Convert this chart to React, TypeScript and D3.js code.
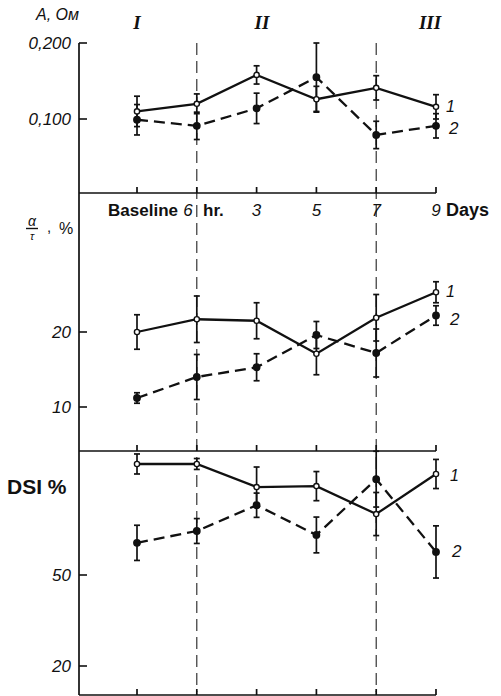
import React from "react";
import * as d3 from "d3";

// time points (the last day label is 9; the scan prints it poorly)
const timePoints = ["Baseline", "6 hr.", "3", "5", "7", "9"];
const romanLabels = ["I", "II", "III"];

// panel A: amplitude, Ohm
const ampTicks = [0.1, 0.2];
const ampS1 = [0.11, 0.12, 0.158, 0.126, 0.141, 0.116];
const ampS1Err = [0.02, 0.013, 0.012, 0.017, 0.016, 0.016];
const ampS2 = [0.099, 0.091, 0.114, 0.155, 0.079, 0.091];
const ampS2Err = [0.02, 0.018, 0.02, 0.045, 0.018, 0.016];

// panel alpha/tau, %
const ratioTicks = [10, 20];
const ratioS1 = [20.0, 21.7, 21.5, 17.1, 21.9, 25.3];
const ratioS1Err = [2.3, 3.1, 2.4, 2.8, 3.1, 1.4];
const ratioS2 = [11.2, 14.0, 15.3, 19.6, 17.2, 22.2];
const ratioS2Err = [0.7, 3.0, 1.8, 1.8, 3.2, 1.3];

// panel DSI %
const dsiTicks = [20, 50];
const dsiS1 = [86.6, 86.6, 79.0, 79.3, 70.1, 83.3];
const dsiS1Err = [3.3, 1.8, 6.6, 4.8, 7.1, 4.8];
const dsiS2 = [60.6, 64.5, 73.0, 63.2, 81.6, 57.6];
const dsiS2Err = [5.8, 4.1, 4.0, 5.9, 9.2, 8.6];

const W = 501;
const H = 696;
const AXIS_X = 79;
const sans = "'Liberation Sans', Arial, sans-serif";

const x = d3.scalePoint<string>().domain(timePoints).range([137, 436]);

interface PanelProps {
  y: d3.ScaleLinear<number, number>;
  s1: number[];
  e1: number[];
  s2: number[];
  e2: number[];
  ticks: number[];
  fmt: (v: number) => string;
  lab1: [number, number];
  lab2: [number, number];
}

function Series({ y, vals, errs, dashed }: { y: d3.ScaleLinear<number, number>; vals: number[]; errs: number[]; dashed: boolean }) {
  const line = d3
    .line<number>()
    .x((_, i) => x(timePoints[i]) as number)
    .y((d) => y(d));
  return (
    <g>
      <path
        d={line(vals) || ""}
        fill="none"
        stroke="#111"
        strokeWidth={2.3}
        strokeDasharray={dashed ? "11,6" : undefined}
      />
      {vals.map((v, i) => {
        const cx = x(timePoints[i]) as number;
        const top = y(v + errs[i]);
        const bot = y(v - errs[i]);
        return (
          <g key={i} stroke="#111" strokeWidth={1.7}>
            <line x1={cx} x2={cx} y1={top} y2={bot} />
            <line x1={cx - 3} x2={cx + 3} y1={top} y2={top} />
            <line x1={cx - 3} x2={cx + 3} y1={bot} y2={bot} />
          </g>
        );
      })}
      {vals.map((v, i) => (
        <circle
          key={"m" + i}
          cx={x(timePoints[i]) as number}
          cy={y(v)}
          r={dashed ? 3.2 : 2.6}
          fill={dashed ? "#111" : "#fff"}
          stroke="#111"
          strokeWidth={1.4}
        />
      ))}
    </g>
  );
}

function Panel({ y, s1, e1, s2, e2, ticks, fmt, lab1, lab2 }: PanelProps) {
  return (
    <g>
      {ticks.map((t) => (
        <g key={t}>
          <line x1={AXIS_X} x2={AXIS_X + 8} y1={y(t)} y2={y(t)} stroke="#111" strokeWidth={1.6} />
          <text
            x={AXIS_X - 8}
            y={y(t) + 6}
            textAnchor="end"
            fontFamily={sans}
            fontStyle="italic"
            fontSize={17}
            fill="#111"
          >
            {fmt(t)}
          </text>
        </g>
      ))}
      <Series y={y} vals={s2} errs={e2} dashed={true} />
      <Series y={y} vals={s1} errs={e1} dashed={false} />
      <text x={lab1[0]} y={lab1[1]} fontFamily={sans} fontStyle="italic" fontSize={16} fill="#111">1</text>
      <text x={lab2[0]} y={lab2[1]} fontFamily={sans} fontStyle="italic" fontSize={17} fill="#111">2</text>
    </g>
  );
}

function HAxis({ yPos }: { yPos: number }) {
  return (
    <g stroke="#111" strokeWidth={1.7}>
      <line x1={AXIS_X} x2={436} y1={yPos} y2={yPos} />
      {timePoints.map((t) => (
        <line key={t} x1={x(t) as number} x2={x(t) as number} y1={yPos} y2={yPos - 6} />
      ))}
    </g>
  );
}

export default function App() {
  const yAmp = d3.scaleLinear().domain([0.1, 0.2]).range([119, 43]);
  const yRatio = d3.scaleLinear().domain([10, 20]).range([407, 332]);
  const yDsi = d3.scaleLinear().domain([20, 50]).range([666, 575]);
  const comma = (v: number) => d3.format(".3f")(v).replace(".", ",");
  const romanX = [137, 262, 430];

  return (
    <svg
      width={W}
      height={H}
      style={{ position: "absolute", left: 0, top: 0, background: "#fff" }}
    >
      <rect width={W} height={H} fill="#fff" />
      {/* vertical dashed reference lines at 6 hr and day 7 */}
      {["6 hr.", "7"].map((t) => (
        <line
          key={t}
          x1={x(t) as number}
          x2={x(t) as number}
          y1={43}
          y2={692}
          stroke="#222"
          strokeWidth={1.1}
          strokeDasharray="12,6"
        />
      ))}
      {/* left axis */}
      <line x1={AXIS_X} x2={AXIS_X} y1={43} y2={695} stroke="#111" strokeWidth={1.7} />
      <HAxis yPos={193} />
      <HAxis yPos={451} />
      <HAxis yPos={695} />

      {romanLabels.map((r, i) => (
        <text
          key={r}
          x={romanX[i]}
          y={29}
          textAnchor="middle"
          fontFamily="'Liberation Serif', serif"
          fontStyle="italic"
          fontWeight="bold"
          fontSize={19}
          fill="#111"
        >
          {r}
        </text>
      ))}

      <text x={36} y={20} fontFamily={sans} fontStyle="italic" fontSize={16} fill="#111">
        A, Ом
      </text>
      <Panel y={yAmp} s1={ampS1} e1={ampS1Err} s2={ampS2} e2={ampS2Err} ticks={ampTicks} fmt={comma} lab1={[446, 112]} lab2={[449, 134]} />

      {/* time labels */}
      <text x={178} y={216} textAnchor="end" fontFamily={sans} fontWeight="bold" fontSize={17} fill="#111">
        Baseline
      </text>
      <text x={188} y={216} textAnchor="middle" fontFamily={sans} fontStyle="italic" fontSize={17} fill="#111">
        6
      </text>
      <text x={203} y={216} fontFamily={sans} fontWeight="bold" fontSize={17} fill="#111">
        hr.
      </text>
      {timePoints.slice(2).map((t) => (
        <text key={t} x={x(t) as number} y={216} textAnchor="middle" fontFamily={sans} fontStyle="italic" fontSize={17} fill="#111">
          {t}
        </text>
      ))}
      <text x={446} y={216} fontFamily={sans} fontWeight="bold" fontSize={18} fill="#111">
        Days
      </text>

      {/* alpha / tau label */}
      <text x={32} y={226} textAnchor="middle" fontFamily={sans} fontStyle="italic" fontSize={14} fill="#111">α</text>
      <line x1={26} x2={38} y1={228.5} y2={228.5} stroke="#111" strokeWidth={1.4} />
      <text x={32} y={240} textAnchor="middle" fontFamily={sans} fontStyle="italic" fontSize={11} fill="#111">τ</text>
      <text x={47} y={232} fontFamily={sans} fontSize={15} fill="#111">,</text>
      <text x={59} y={234} fontFamily={sans} fontSize={16} fill="#111">%</text>
      <Panel y={yRatio} s1={ratioS1} e1={ratioS1Err} s2={ratioS2} e2={ratioS2Err} ticks={ratioTicks} fmt={(v) => String(v)} lab1={[446, 297]} lab2={[450, 325]} />

      <text x={7} y={494} fontFamily={sans} fontWeight="bold" fontSize={21} fill="#111">
        DSI %
      </text>
      <Panel y={yDsi} s1={dsiS1} e1={dsiS1Err} s2={dsiS2} e2={dsiS2Err} ticks={dsiTicks} fmt={(v) => String(v)} lab1={[450, 481]} lab2={[452, 557]} />
    </svg>
  );
}
